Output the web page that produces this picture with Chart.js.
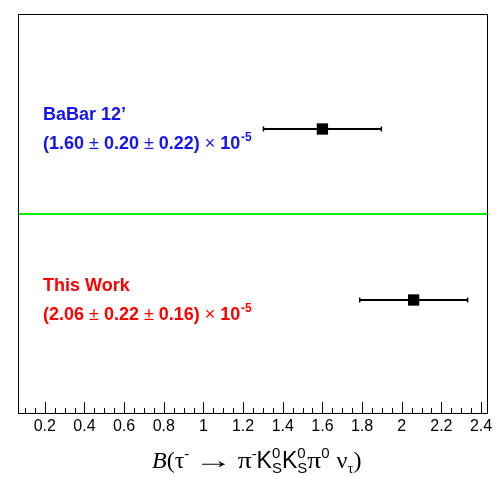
<!DOCTYPE html>
<html>
<head>
<meta charset="utf-8">
<script src="https://cdn.jsdelivr.net/npm/chart.js@4.4.1/dist/chart.umd.min.js"></script>
<style>
  html, body { margin: 0; padding: 0; background: #fff; }
  #contenedor { width: 496px; height: 477px; }
</style>
</head>
<body>
<div id="contenedor"><canvas id="grafico"></canvas></div>
<script>
// measurements: central value, stat. and syst. errors (units of 1e-5)
const experiments = ["BaBar 12\u2019", "This Work"];
const centralValues = [1.60, 2.06];
const statErrors = [0.20, 0.22];
const systErrors = [0.22, 0.16];
const rowLevels = [0.7125, 0.285];
const textColors = ['#1414f0', '#ff0000'];

const separatorLevel = 0.5;
const xRange = [0.065, 2.435];
const tickValues = [0.2, 0.4, 0.6, 0.8, 1.0, 1.2, 1.4, 1.6, 1.8, 2.0, 2.2, 2.4];

const datasets = [];

datasets.push({
  data: [{ x: xRange[0], y: separatorLevel }, { x: xRange[1], y: separatorLevel }],
  showLine: true,
  borderColor: '#00f000',
  borderWidth: 2,
  pointRadius: 0
});

experiments.forEach((name, i) => {
  const total = Math.sqrt(statErrors[i] ** 2 + systErrors[i] ** 2);
  const y = rowLevels[i];
  datasets.push({
    data: [{ x: centralValues[i] - total, y: y }, { x: centralValues[i] + total, y: y }],
    showLine: true,
    borderColor: '#000',
    borderWidth: 2,
    pointStyle: 'line',
    rotation: 90,
    pointRadius: 2.5,
    pointBorderWidth: 1.5,
    pointBorderColor: '#000'
  });
  datasets.push({
    data: [{ x: centralValues[i], y: y }],
    pointStyle: 'rect',
    pointRadius: 8,
    backgroundColor: '#000',
    borderColor: '#000',
    pointBorderWidth: 0
  });
});

// draws a row of text pieces; "back" restarts at the previous piece, "sx" stretches it
function drawRuns(ctx, runs, x, y) {
  let start = x;
  runs.forEach(r => {
    if (r.back) x = start;
    start = x;
    ctx.font = r.font;
    const sx = r.sx || 1;
    ctx.save();
    ctx.translate(x, y + (r.dy || 0));
    ctx.scale(sx, 1);
    ctx.fillText(r.t, 0, 0);
    ctx.restore();
    x += ctx.measureText(r.t).width * sx + (r.gap || 0);
  });
  return x;
}

const frameAndText = {
  id: 'frameAndText',
  afterDraw(chart) {
    const ctx = chart.ctx;
    const a = chart.chartArea;
    const xs = chart.scales.x;
    const ys = chart.scales.y;
    ctx.save();

    // frame
    ctx.strokeStyle = '#000';
    ctx.lineWidth = 1;
    ctx.strokeRect(a.left + 0.5, a.top + 0.5, a.right - a.left - 1, a.bottom - a.top - 1);

    // ticks along the bottom, pointing inward
    ctx.beginPath();
    for (let k = 2; k <= 48; k++) {
      const px = Math.round(xs.getPixelForValue(k * 0.05)) + 0.5;
      const len = (k % 4 === 0) ? 12 : 6;
      ctx.moveTo(px, a.bottom);
      ctx.lineTo(px, a.bottom - len);
    }
    ctx.stroke();

    // measurement labels
    const bold = 'bold 18px "Liberation Sans", Arial, sans-serif';
    const thin = '18px "Liberation Sans", Arial, sans-serif';
    const sup = 'bold 12px "Liberation Sans", Arial, sans-serif';
    ctx.textAlign = 'left';
    ctx.textBaseline = 'alphabetic';
    experiments.forEach((name, i) => {
      const py = ys.getPixelForValue(rowLevels[i]);
      ctx.fillStyle = textColors[i];
      ctx.font = bold;
      ctx.fillText(name, 43, py - 9.5);
      drawRuns(ctx, [
        { t: '(' + centralValues[i].toFixed(2), font: bold, gap: 5 },
        { t: '\u00b1', font: thin, gap: 5 },
        { t: statErrors[i].toFixed(2), font: bold, gap: 5 },
        { t: '\u00b1', font: thin, gap: 5 },
        { t: systErrors[i].toFixed(2) + ')', font: bold, gap: 5 },
        { t: '\u00d7', font: thin, gap: 5 },
        { t: '10', font: bold, gap: 0.5 },
        { t: '-5', font: sup, dy: -8 }
      ], 43, py + 20);
    });

    // axis title
    const serif = '24px "Liberation Serif", "DejaVu Serif", serif';
    const serifIt = 'italic 24px "Liberation Serif", "DejaVu Serif", serif';
    const sans = '23px "Liberation Sans", Arial, sans-serif';
    const small = '15px "Liberation Sans", Arial, sans-serif';
    const smallSerif = '15px "Liberation Serif", "DejaVu Serif", serif';
    ctx.fillStyle = '#000';
    drawRuns(ctx, [
      { t: 'B', font: serifIt },
      { t: '(\u03c4', font: serif },
      { t: '-', font: smallSerif, dy: -10, gap: 5 },
      { t: '\u2192', font: serif, sx: 1.6, gap: 5 },
      { t: '\u03c0', font: serif, sx: 1.15 },
      { t: '-', font: smallSerif, dy: -10 },
      { t: 'K', font: sans },
      { t: '0', font: small, dy: -10 },
      { t: 'S', font: small, dy: 5, back: true },
      { t: 'K', font: sans },
      { t: '0', font: small, dy: -10 },
      { t: 'S', font: small, dy: 5, back: true },
      { t: '\u03c0', font: serif, sx: 1.15 },
      { t: '0', font: small, dy: -10, gap: 7 },
      { t: '\u03bd', font: serif },
      { t: '\u03c4', font: smallSerif, dy: 5 },
      { t: ')', font: serif }
    ], 152, 468);

    ctx.restore();
  }
};

const ctx = document.getElementById('grafico').getContext('2d');
new Chart(ctx, {
  type: 'scatter',
  data: { datasets: datasets },
  options: {
    responsive: true,
    maintainAspectRatio: false,
    animation: false,
    layout: { padding: { left: 18, right: 8, top: 14, bottom: 0 } },
    plugins: { legend: { display: false }, tooltip: { enabled: false } },
    scales: {
      x: {
        type: 'linear',
        min: xRange[0],
        max: xRange[1],
        afterBuildTicks: scale => { scale.ticks = tickValues.map(v => ({ value: v })); },
        afterFit: scale => { scale.height = 63; },
        ticks: {
          callback: v => String(Number(v.toFixed(1))),
          color: '#000',
          font: { family: '"Liberation Sans", Arial, sans-serif', size: 16 },
          padding: 3,
          maxRotation: 0,
          autoSkip: false
        },
        grid: { display: false, drawTicks: false },
        border: { display: false }
      },
      y: { type: 'linear', min: 0, max: 1, display: false }
    }
  },
  plugins: [frameAndText]
});
</script>
</body>
</html>
